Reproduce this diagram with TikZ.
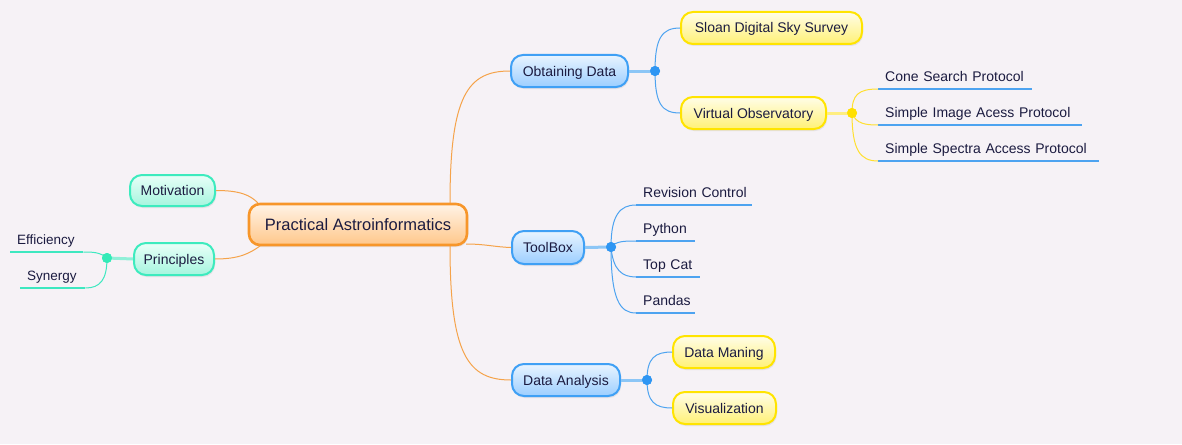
\documentclass[tikz,border=0pt]{standalone}
\usepackage{fontspec}
\setmainfont{Liberation Sans}
\usetikzlibrary{shadows}
\definecolor{bg}{HTML}{F6F2F6}
\definecolor{txt}{HTML}{1B1B40}
\definecolor{orB}{HTML}{F7962A}\definecolor{orT}{HTML}{FFF3E6}\definecolor{orD}{HTML}{FFC78A}\definecolor{orL}{HTML}{F5A34A}
\definecolor{blB}{HTML}{3FA0F5}\definecolor{blT}{HTML}{E8F4FF}\definecolor{blD}{HTML}{9CCEFF}\definecolor{blL}{HTML}{4DA3F0}\definecolor{blK}{HTML}{8CC6F6}\definecolor{blP}{HTML}{2F96F3}
\definecolor{yeB}{HTML}{FFE400}\definecolor{yeT}{HTML}{FFFDE8}\definecolor{yeD}{HTML}{FFF176}\definecolor{yeL}{HTML}{FFE030}\definecolor{yeK}{HTML}{FFEE80}\definecolor{yeP}{HTML}{FFE000}
\definecolor{teB}{HTML}{3DEBBE}\definecolor{teT}{HTML}{E8FFF8}\definecolor{teD}{HTML}{A6F5DE}\definecolor{teL}{HTML}{3EE8C0}\definecolor{teK}{HTML}{90F0D8}\definecolor{teP}{HTML}{33EBB8}
\tikzset{
  box/.style={rounded corners=12pt, line width=2pt, text=txt, inner sep=0pt,
    font=\fontsize{14}{16}\selectfont, text height=10pt, text depth=0pt,
    drop shadow={shadow xshift=1pt, shadow yshift=-2pt, opacity=0.14}},
  mainbox/.style={box, rounded corners=11pt, line width=2.6pt, draw=orB, top color=orT, bottom color=orD,
    font=\fontsize{16.5}{18}\selectfont, text height=12pt},
  bluebox/.style={box, draw=blB, top color=blT, bottom color=blD},
  yellowbox/.style={box, draw=yeB, top color=yeT, bottom color=yeD},
  tealbox/.style={box, draw=teB, top color=teT, bottom color=teD},
  leaf/.style={anchor=south west, inner xsep=7pt, inner ysep=3pt, text depth=4pt, align=left, text=txt,
    font=\fontsize{14}{16}\selectfont},
  smallleaf/.style={leaf, font=\fontsize{13.5}{16}\selectfont},
  dotnode/.style={circle, inner sep=0pt, minimum size=10pt, fill=#1},
  thinline/.style={line width=1pt, draw=#1},
  thickline/.style={line width=3pt, draw=#1},
  uline/.style={line width=1.2pt, draw=#1},
}
\newcommand{\lft}[1]{\mbox{#1}}
\begin{document}
\begin{tikzpicture}[x=1pt,y=-1pt]
\fill[bg] (0,0) rectangle (1182,444);
\useasboundingbox (0,0) rectangle (1182,444);

\coordinate (cA) at (450,203);
\coordinate (cB) at (450,246);
\coordinate (cC) at (466,244);
\coordinate (cL1) at (258,203);
\coordinate (cL2) at (260,246);

% boxes
\node[mainbox, minimum width=218pt, minimum height=41pt] (central) at (358,224.5) {Practical Astroinformatics};
\node[tealbox, minimum width=85pt, minimum height=31pt] (mot) at (172.5,190.5) {Motivation};
\node[tealbox, minimum width=80pt, minimum height=32pt] (pri) at (174,259) {Principles};
\node[bluebox, minimum width=117pt, minimum height=32pt] (obt) at (569.5,71) {Obtaining Data};
\node[yellowbox, minimum width=181pt, minimum height=32pt] (sloan) at (771.5,28) {Sloan Digital Sky Survey};
\node[yellowbox, minimum width=145pt, minimum height=32pt] (vo) at (753.5,113) {Virtual Observatory};
\node[bluebox, minimum width=72pt, minimum height=33pt] (tool) at (548,247.5) {ToolBox};
\node[bluebox, minimum width=108pt, minimum height=32pt] (da) at (566,380) {Data Analysis};
\node[yellowbox, minimum width=102pt, minimum height=32pt] (dm) at (724,352) {Data Maning};
\node[yellowbox, minimum width=103pt, minimum height=32pt] (vis) at (724.5,408) {Visualization};

% dots
\node[dotnode=blP] (d1) at (655,71) {};
\node[dotnode=yeP] (d2) at (852,113) {};
\node[dotnode=blP] (d3) at (611,247) {};
\node[dotnode=blP] (d4) at (647,380) {};
\node[dotnode=teP] (d5) at (107,258) {};

% leaves
\node[leaf, text width=140pt] (cone) at (878,89) {\lft{Cone Search Protocol}};
\node[leaf, text width=190pt] (sia) at (878,125) {\lft{Simple Image Acess Protocol}};
\node[leaf, text width=207pt] (ssa) at (878,161) {\lft{Simple Spectra Access Protocol}};
\node[leaf, text width=102pt] (rev) at (636,205) {\lft{Revision Control}};
\node[leaf, text width=45pt] (py) at (636,241) {\lft{Python}};
\node[leaf, text width=50pt] (tc) at (636,277) {\lft{Top Cat}};
\node[leaf, text width=45pt] (pd) at (636,313) {\lft{Pandas}};
\node[smallleaf, text width=59pt] (eff) at (10,252) {\lft{Efficiency}};
\node[smallleaf, text width=51pt] (syn) at (20,288) {\lft{Synergy}};

% underlines
\foreach \n in {cone,sia,ssa,rev,py,tc,pd}{
  \draw[uline=blL] (\n.south west) -- (\n.south east);
}
\foreach \n in {eff,syn}{
  \draw[uline=teL] (\n.south west) -- (\n.south east);
}

% central connectors
\draw[thinline=orL] (cA) .. controls (450,95) and (468,71) .. (obt.west);
\draw[thinline=orL] (cC) .. controls (485,244) and (495,247) .. (tool.west);
\draw[thinline=orL] (cB) .. controls (450,355) and (468,380) .. (da.west);
\draw[thinline=orL] (mot.east) .. controls (240,190.5) and (250,195) .. (cL1);
\draw[thinline=orL] (pri.east) .. controls (240,259) and (250,253) .. (cL2);

% obtaining group
\draw[thickline=blK] (obt.east) -- (d1.center);
\draw[thinline=blL] (d1.center) .. controls (655,38) and (662,28) .. (sloan.west);
\draw[thinline=blL] (d1.center) .. controls (655,104) and (662,113) .. (vo.west);
% VO group
\draw[thickline=yeK] (vo.east) -- (d2.center);
\draw[thinline=yeL] (d2.center) .. controls (852,95) and (858,89) .. (cone.south west);
\draw[thinline=yeL] (d2.center) .. controls (856,124) and (866,125) .. (sia.south west);
\draw[thinline=yeL] (d2.center) .. controls (852,150) and (860,161) .. (ssa.south west);
% toolbox group
\draw[thickline=blK] (tool.east) -- (d3.center);
\draw[thinline=blL] (d3.center) .. controls (611,215) and (620,205) .. (rev.south west);
\draw[thinline=blL] (d3.center) .. controls (616,241) and (625,241) .. (py.south west);
\draw[thinline=blL] (d3.center) .. controls (613,270) and (622,277) .. (tc.south west);
\draw[thinline=blL] (d3.center) .. controls (611,300) and (620,313) .. (pd.south west);
% data analysis group
\draw[thickline=blK] (da.east) -- (d4.center);
\draw[thinline=blL] (d4.center) .. controls (647,358) and (655,352) .. (dm.west);
\draw[thinline=blL] (d4.center) .. controls (647,402) and (655,408) .. (vis.west);
% principles group
\draw[thickline=teK] (pri.west) -- (d5.center);
\draw[thinline=teL] (d5.center) .. controls (100,252) and (92,252) .. (eff.south east);
\draw[thinline=teL] (d5.center) .. controls (107,280) and (100,288) .. (syn.south east);

% dots on top
\fill[blP] (d1) circle (5pt);
\fill[yeP] (d2) circle (5pt);
\fill[blP] (d3) circle (5pt);
\fill[blP] (d4) circle (5pt);
\fill[teP] (d5) circle (5pt);
\end{tikzpicture}
\end{document}
